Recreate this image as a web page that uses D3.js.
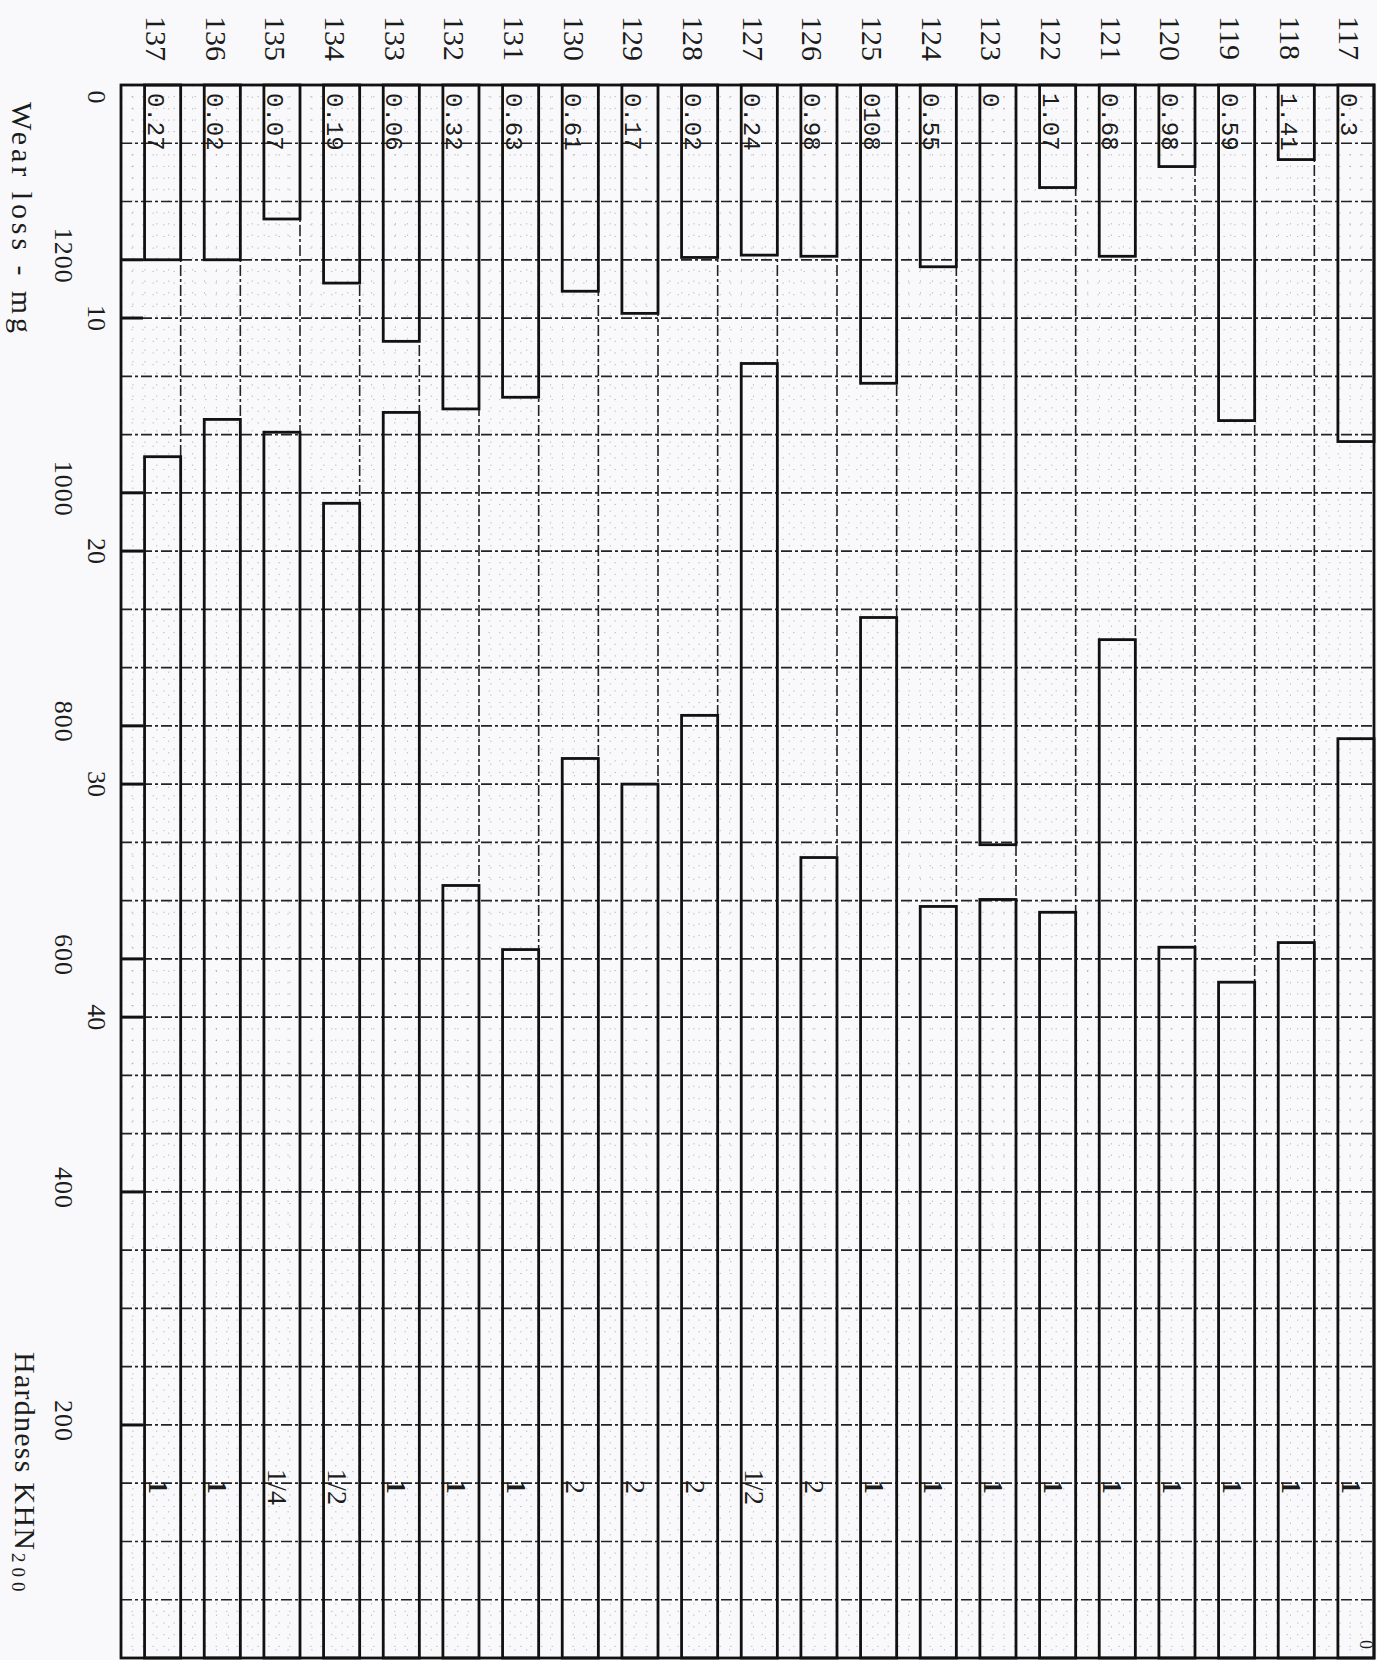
<!DOCTYPE html>
<html>
<head>
<meta charset="utf-8">
<title>Wear loss and hardness</title>
<script src="https://cdn.jsdelivr.net/npm/d3@7"></script>
<style>
body{margin:0;background:#f9f9fb;}
svg{display:block;}
text{fill:#1c1c1c;}
</style>
</head>
<body>
<svg id="chart"></svg>
<script>
// specimens, left to right on the sheet
const specimens = [137,136,135,134,133,132,131,130,129,128,127,126,125,124,123,122,121,120,119,118,117];
// wear loss in mg (bars hanging from the top edge)
const wearLoss = [7.5,7.5,5.75,8.5,11.0,13.9,13.4,8.85,9.8,7.4,7.3,7.35,12.8,7.8,32.6,4.4,7.35,3.5,14.4,3.2,15.3];
const wearLabels = ["0.27","0.02","0.07","0.19","0.06","0.32","0.63","0.61","0.17","0.02","0.24","0.98","0108","0.55","0","1.07","0.68","0.98","0.59","1.41","0.3"];
// hardness KHN200 (bars rising from the bottom edge)
const hardness = [1031,1063,1052,991,1069,663,608,772,750,809,1111,687,893,645,651,640,874,610,580,614,789];
const hardnessLabels = ["1","1","1/4","1/2","1","1","1","2","2","2","1/2","2","1","1","1","1","1","1","1","1","1"];
const wearTicks = [0,10,20,30,40];
const hardnessTicks = [200,400,600,800,1000,1200];

//setting up svg container
const w = 1377;
const h = 1660;
const svg = d3.select('#chart')
  .attr('width', w)
  .attr('height', h);

const pTop = 85, pBottom = 1658, pLeft = 121, pRight = 1374;

//setting the scaling
const x = d3.scaleBand()
  .domain(specimens)
  .range([pLeft, pRight])
  .paddingInner(0.395)
  .paddingOuter(0.1975)
  .align(1);
const wearY = d3.scaleLinear().domain([0, 67.5]).range([pTop, pBottom]);
const hardY = d3.scaleLinear().domain([0, 1350]).range([pBottom, pTop]);
const step = x.step();

//graph paper
const grid = svg.append('g');
grid.selectAll('.fineh')
  .data(d3.range(0.5, 67.5, 0.5).filter(v => v % 2.5 !== 0))
  .join('line')
  .attr('x1', pLeft).attr('x2', pRight)
  .attr('y1', wearY).attr('y2', wearY)
  .attr('stroke', '#444').attr('stroke-width', 1)
  .attr('stroke-dasharray', '1.5 9').attr('opacity', 0.3);
grid.selectAll('.finev')
  .data(d3.range(1, 21 * 5).filter(i => i % 5 !== 0))
  .join('line')
  .attr('x1', i => pLeft + i * step / 5).attr('x2', i => pLeft + i * step / 5)
  .attr('y1', pTop).attr('y2', pBottom)
  .attr('stroke', '#444').attr('stroke-width', 1)
  .attr('stroke-dasharray', '1.5 10').attr('opacity', 0.3);
grid.selectAll('.majorh')
  .data(d3.range(2.5, 67.5, 2.5))
  .join('line')
  .attr('x1', pLeft).attr('x2', pRight)
  .attr('y1', wearY).attr('y2', wearY)
  .attr('stroke', '#222').attr('stroke-width', 1.7)
  .attr('stroke-dasharray', '11 3 3 3');
grid.selectAll('.majorv')
  .data(specimens.slice(0, -1))
  .join('line')
  .attr('x1', d => x(d) + x.bandwidth()).attr('x2', d => x(d) + x.bandwidth())
  .attr('y1', pTop).attr('y2', pBottom)
  .attr('stroke', '#222').attr('stroke-width', 1.6)
  .attr('stroke-dasharray', '11 3 3 3');

//frame
svg.append('rect')
  .attr('x', pLeft).attr('y', pTop)
  .attr('width', pRight - pLeft).attr('height', pBottom - pTop)
  .attr('fill', 'none').attr('stroke', '#111').attr('stroke-width', 2.8);

//ticks on the left edge
svg.selectAll('.htick')
  .data(hardnessTicks)
  .join('line')
  .attr('x1', pLeft).attr('x2', pLeft + 22)
  .attr('y1', hardY).attr('y2', hardY)
  .attr('stroke', '#111').attr('stroke-width', 3);
svg.selectAll('.wtick')
  .data(wearTicks.slice(1))
  .join('line')
  .attr('x1', pLeft).attr('x2', pLeft + 22)
  .attr('y1', wearY).attr('y2', wearY)
  .attr('stroke', '#111').attr('stroke-width', 3);

//wear bars
svg.selectAll('.wear')
  .data(specimens)
  .join('rect')
  .attr('x', d => x(d))
  .attr('y', wearY(0))
  .attr('width', x.bandwidth())
  .attr('height', (d, i) => wearY(wearLoss[i]) - wearY(0))
  .attr('fill', 'none').attr('stroke', '#111').attr('stroke-width', 2.8);

//hardness bars
svg.selectAll('.hard')
  .data(specimens)
  .join('rect')
  .attr('x', d => x(d))
  .attr('y', (d, i) => hardY(hardness[i]))
  .attr('width', x.bandwidth())
  .attr('height', (d, i) => hardY(0) - hardY(hardness[i]))
  .attr('fill', 'none').attr('stroke', '#111').attr('stroke-width', 2.8);

//rotated text helper
function vtext(px, py, str) {
  return svg.append('text')
    .attr('transform', `translate(${px},${py}) rotate(90)`)
    .text(str);
}

//specimen numbers
specimens.forEach(d => {
  vtext(x(d) + x.bandwidth() / 2 - 6, 16, d)
    .attr('dominant-baseline', 'central')
    .style('font', '30px "Liberation Serif"');
});

//values written in the wear bars
specimens.forEach((d, i) => {
  vtext(x(d) + 3, 93, wearLabels[i])
    .style('font', '24px "Liberation Mono"');
});

//marks written near the foot of the hardness bars
specimens.forEach((d, i) => {
  const lab = hardnessLabels[i];
  vtext(x(d) + 4, 1487, lab)
    .attr('text-anchor', 'middle')
    .style('font', lab === '1' ? 'bold 28px "Liberation Serif"' : '28px "Liberation Serif"');
});

//axis labels
wearTicks.forEach(v => {
  vtext(88, Math.max(wearY(v), wearY(0) + 12), v)
    .attr('text-anchor', 'middle')
    .style('font', '26px "Liberation Serif"');
});
hardnessTicks.forEach(v => {
  vtext(55, hardY(v) - 4, v)
    .attr('text-anchor', 'middle')
    .style('font', '26px "Liberation Serif"')
    .style('letter-spacing', '1px');
});
vtext(1360, 1640, '0')
  .style('font', '18px "Liberation Serif"');

//axis titles
vtext(12, 102, 'Wear loss - mg')
  .attr('textLength', 231)
  .attr('lengthAdjust', 'spacing')
  .style('font', '30px "Liberation Serif"');
vtext(15, 1352, 'Hardness KHN')
  .attr('textLength', 198)
  .attr('lengthAdjust', 'spacing')
  .style('font', '30px "Liberation Serif"');
vtext(12, 1553, '200')
  .style('font', '19px "Liberation Serif"')
  .style('letter-spacing', '5px');
</script>
</body>
</html>
